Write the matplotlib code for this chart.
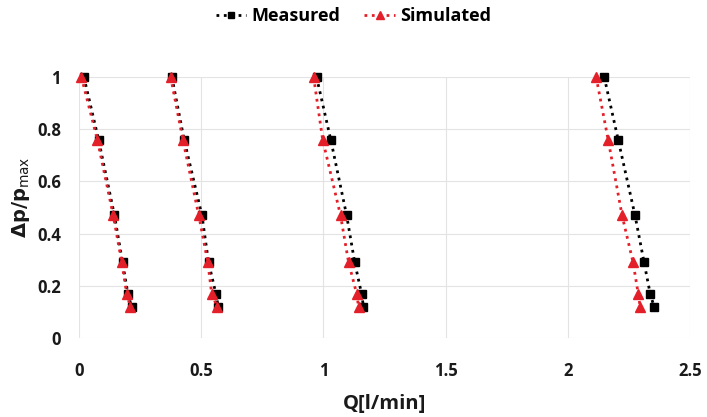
import matplotlib
matplotlib.use("Agg")
import matplotlib.pyplot as plt

plt.rcParams['font.family'] = ['Open Sans', 'DejaVu Sans']

# normalized pressure drop, same for every set
dp = [1.0, 0.76, 0.47, 0.29, 0.17, 0.12]

# flow rate Q [l/min] for the four curves
meas_q = [
    [0.02, 0.080, 0.145, 0.178, 0.200, 0.215],
    [0.380, 0.430, 0.503, 0.530, 0.560, 0.570],
    [0.972, 1.030, 1.095, 1.128, 1.156, 1.164],
    [2.149, 2.206, 2.275, 2.312, 2.337, 2.353],
]
sim_q = [
    [0.010, 0.075, 0.140, 0.175, 0.195, 0.210],
    [0.375, 0.425, 0.490, 0.527, 0.543, 0.565],
    [0.960, 0.997, 1.070, 1.103, 1.136, 1.144],
    [2.116, 2.165, 2.222, 2.267, 2.288, 2.296],
]

xticks = [0, 0.5, 1, 1.5, 2, 2.5]
yticks = [0, 0.2, 0.4, 0.6, 0.8, 1]

black = '#000000'
red = '#e3202a'
txt = '#1a1a1a'

fig = plt.figure(figsize=(7.07, 4.17), dpi=100)
ax = fig.add_axes([79/707, 1 - 338/417, (690-79)/707, (338-77)/417])

for i in range(len(meas_q)):
    ax.plot(meas_q[i], dp, ls=':', lw=2, color=black, marker='s', ms=6,
            clip_on=False, zorder=3, label='Measured' if i == 0 else None)
    ax.plot(sim_q[i], dp, ls=':', lw=2, color=red, marker='^', ms=6.5,
            clip_on=False, zorder=4, label='Simulated' if i == 0 else None)

ax.set_xlim(0, 2.5)
ax.set_ylim(0, 1)
ax.set_xticks(xticks)
ax.set_xticklabels([f'{t:g}' for t in xticks])
ax.set_yticks(yticks)
ax.set_yticklabels([f'{t:g}' for t in yticks])
ax.grid(True, color='#e3e3e3', lw=0.8)
ax.set_axisbelow(True)
for s in ax.spines.values():
    s.set_visible(False)
ax.tick_params(length=0, labelsize=12, colors=txt)
ax.tick_params(axis='x', pad=17)
ax.tick_params(axis='y', pad=13)
for lab in ax.get_xticklabels() + ax.get_yticklabels():
    lab.set_fontweight('bold')

ax.set_xlabel('Q[l/min]', fontsize=14.5, fontweight='bold', color=txt)
ax.xaxis.set_label_coords(0.5, -0.215)
ax.set_ylabel(r'$\mathbf{\Delta p/p}_{\mathrm{max}}$', fontsize=14, color=txt)
ax.yaxis.set_label_coords(-0.077, 0.54)

fig.legend(loc='center', bbox_to_anchor=(0.5, 1 - 16/417), ncol=2, frameon=False,
           prop={'weight': 'bold', 'size': 13}, handlelength=1.7, columnspacing=1.3,
           handletextpad=0.3, markerscale=0.8)

fig.savefig('out.png', dpi=100)
